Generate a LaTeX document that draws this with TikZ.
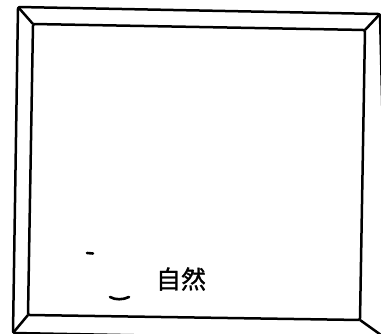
\documentclass[tikz,border=0pt]{standalone}
\usepackage{fontspec}
\newfontfamily\cjk[FakeBold=1.2]{Noto Sans CJK SC}
\begin{document}
\begin{tikzpicture}[x=1pt,y=1pt,
  frameline/.style={draw=black,line width=2.5pt,line join=round,rounded corners=2pt},
  smudge/.style={draw=black,line width=2.6pt,line cap=round}]
\useasboundingbox (0,0) rectangle (381,334);
\clip (0,0) rectangle (381,334);
\fill[white] (0,0) rectangle (381,334);
% outer frame
\coordinate (oTL) at (18,327);
\coordinate (oTR) at (380,320);
\coordinate (oBR) at (388,-6);
\coordinate (oBL) at (13,1);
% inner frame
\coordinate (iTL) at (33,310);
\coordinate (iTR) at (365,304);
\coordinate (iBR) at (360,14);
\coordinate (iBL) at (28,19);
\draw[frameline] (oTL) -- (oTR) -- (oBR) -- (oBL) -- cycle;
\draw[frameline] (iTL) -- (iTR) -- (iBR) -- (iBL) -- cycle;
\draw[frameline] (oTL) -- (iTL);
\draw[frameline] (oTR) -- (iTR);
\draw[frameline] (oBR) -- (iBR);
\draw[frameline] (oBL) -- (iBL);
% marks
\draw[smudge] (87,81) -- (93,80.5);
\draw[smudge] (110,37) .. controls (115,34) and (123,34) .. (129,37);
% label
\node[font=\cjk\fontsize{25}{28}\selectfont,inner sep=0pt] (label) at (181,55) {自然};
\end{tikzpicture}
\end{document}
